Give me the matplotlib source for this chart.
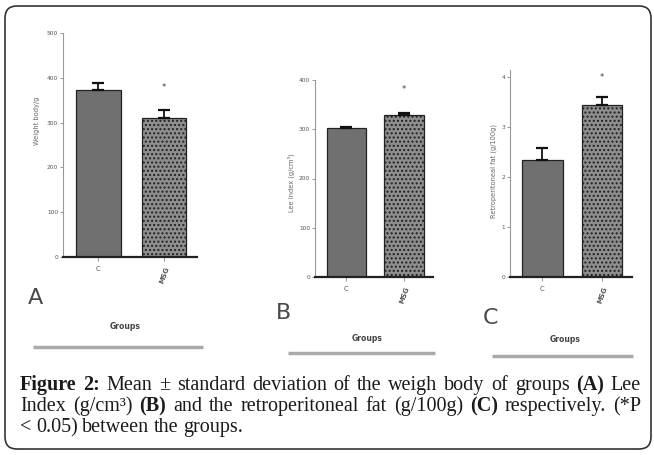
import matplotlib
matplotlib.use('Agg')
import matplotlib.pyplot as plt
from matplotlib.patches import FancyBboxPatch

# data
groups = ['C', 'MSG']
weight_mean = [373, 311]
weight_sd = [16, 17]
lee_mean = [302, 329]
lee_sd = [3, 4]
fat_mean = [2.34, 3.44]
fat_sd = [0.24, 0.16]

W, H = 654, 455
fig = plt.figure(figsize=(W / 100, H / 100), dpi=100)


def box(x0, y0, x1, y1):
    # pixel box (top-left origin) -> figure fraction
    return [x0 / W, 1 - y1 / H, (x1 - x0) / W, (y1 - y0) / H]


# background axes in pixel units for frame, letters, lines and caption
bg = fig.add_axes([0, 0, 1, 1])
bg.set_xlim(0, W)
bg.set_ylim(H, 0)
bg.axis('off')
bg.add_patch(FancyBboxPatch((5, 6), 646, 443, boxstyle='round,pad=0,rounding_size=12',
                            fc='none', ec='#333333', lw=1.2))

panels = [
    # axes box, means, sds, ylim, yticks, ylabel, star y, ylabel pos, letter, underline, xlabel pos
    (box(63, 33, 197, 257), weight_mean, weight_sd, 500, range(0, 501, 100),
     'Weight body/g', 378, (-0.17, 0.61), (35, 298, 'A'), (33, 203, 347), (0.46, -0.29)),
    (box(315, 80, 433, 277), lee_mean, lee_sd, 400, range(0, 401, 100),
     'Lee Index (g/cm³)', 380, (-0.17, 0.48), (284, 313, 'B'), (288, 435, 353), (0.44, -0.29)),
    (box(510, 70, 632, 277), fat_mean, fat_sd, 4.15, range(0, 5),
     'Retroperitoneal fat (g/100g)', 4.0, (-0.11, 0.51), (491, 318, 'C'), (492, 633, 356), (0.45, -0.28)),
]

for rect, means, sds, ymax, yt, ylab, stary, ylpos, letter, uline, xlpos in panels:
    ax = fig.add_axes(rect)
    x = [0, 1]
    bars = ax.bar(x, means, width=0.68, color=['#707070', '#8e8e8e'],
                  edgecolor='#222222', linewidth=0.9, zorder=2)
    bars[1].set_hatch('....')
    ax.errorbar(x, means, yerr=[[0, 0], sds], fmt='none', ecolor='#111111',
                elinewidth=1.3, capsize=4, capthick=1.6, zorder=3)
    ax.text(1, stary, '*', ha='center', va='center', fontsize=6, color='#444444')
    ax.set_xlim(-0.54, 1.5)
    ax.set_ylim(0, ymax)
    ax.set_yticks(list(yt))
    ax.tick_params(axis='y', labelsize=4.2, labelcolor='#555555', length=2, width=0.6,
                   color='#888888', pad=1.5)
    ax.tick_params(axis='x', labelsize=5, labelcolor='#555555', length=3, width=0.6, color='#888888')
    ax.set_xticks(x)
    ax.set_xticklabels(groups)
    lbls = ax.get_xticklabels()
    lbls[1].set_rotation(70)
    lbls[1].set_fontweight('bold')
    for s in ['top', 'right']:
        ax.spines[s].set_visible(False)
    ax.spines['left'].set_color('#999999')
    ax.spines['left'].set_linewidth(0.8)
    ax.spines['bottom'].set_color('#222222')
    ax.spines['bottom'].set_linewidth(1.6)
    ax.set_ylabel(ylab, fontsize=4.8, color='#666666')
    ax.yaxis.set_label_coords(*ylpos)
    ax.set_xlabel('Groups', fontsize=5.5, color='#444444', fontweight='bold')
    ax.xaxis.set_label_coords(*xlpos)
    ax.patch.set_alpha(0)

    lx, ly, lt = letter
    bg.text(lx, ly, lt, fontsize=16, color='#4a4a4a', ha='center', va='center',
            family=['Liberation Sans Narrow', 'DejaVu Sans'])
    ux0, ux1, uy = uline
    bg.plot([ux0, ux1], [uy, uy], color='#aaaaaa', lw=2.5, solid_capstyle='butt')

# caption
serif = ['Liberation Serif', 'DejaVu Serif']
cap_lines = [
    [('Figure 2:', True), ('Mean ± standard deviation of the weigh body of groups', False),
     ('(A)', True), ('Lee', False)],
    [('Index (g/cm³)', False), ('(B)', True), ('and the retroperitoneal fat (g/100g)', False),
     ('(C)', True), ('respectively. (*P', False)],
    [('< 0.05) between the groups.', False)],
]
cap_base = [390, 411, 432]
x0, x1 = 20, 641
renderer = fig.canvas.get_renderer()
for i, (segs, y) in enumerate(zip(cap_lines, cap_base)):
    words = []
    for txt, bold in segs:
        for w in txt.split(' '):
            words.append((w, bold))
    texts = [bg.text(0, y, w, fontsize=14.5, family=serif, color='#1a1a1a',
                     fontweight='bold' if b else 'normal', ha='left', va='baseline')
             for w, b in words]
    widths = [t.get_window_extent(renderer).width for t in texts]
    if i < len(cap_lines) - 1:
        gap = (x1 - x0 - sum(widths)) / (len(texts) - 1)
    else:
        gap = 4.5
    cx = x0
    for t, w in zip(texts, widths):
        t.set_x(cx)
        cx += w + gap

fig.savefig('out.png', dpi=100)
